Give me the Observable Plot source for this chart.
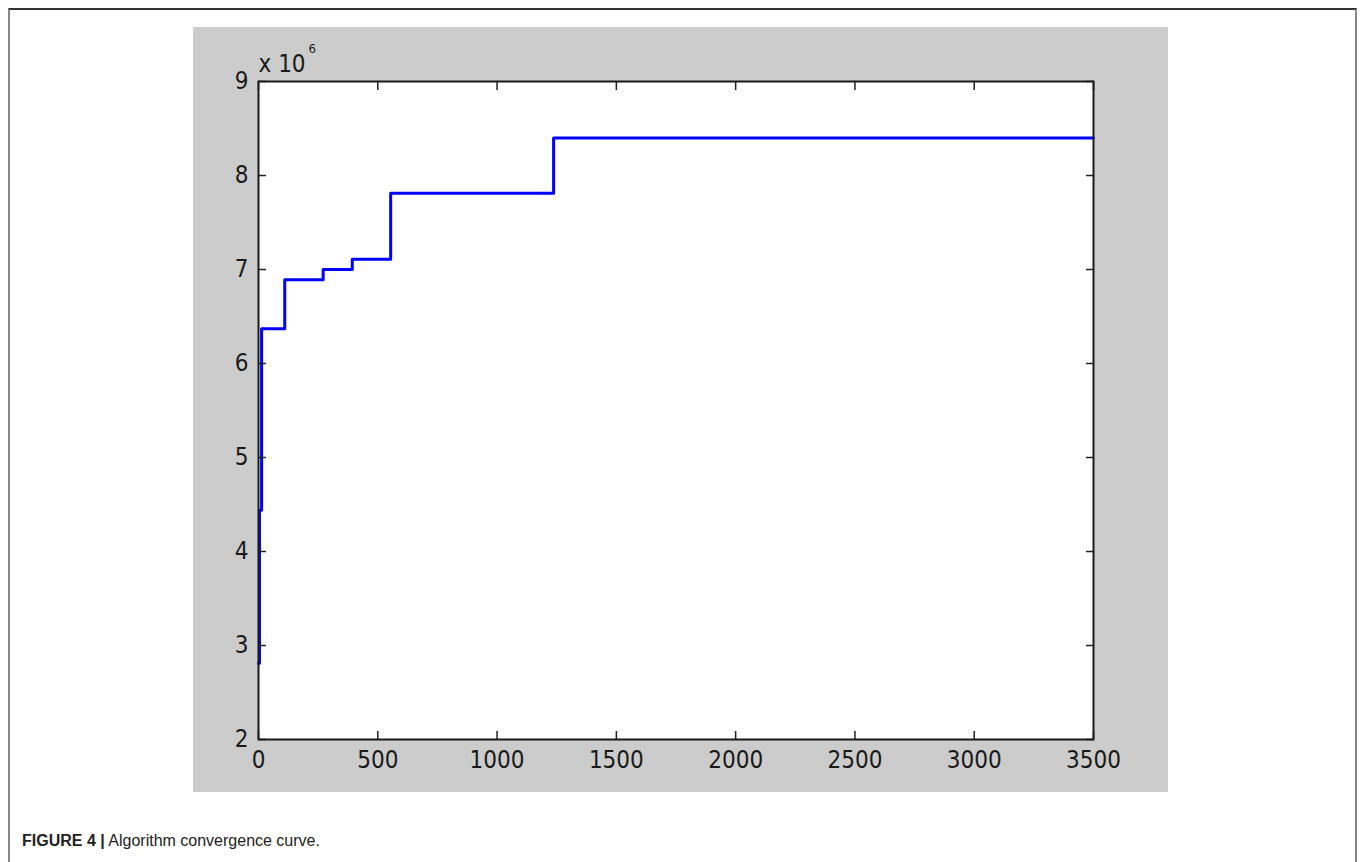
<!DOCTYPE html>
<html>
<head>
<meta charset="utf-8">
<script src="https://cdn.jsdelivr.net/npm/d3@7"></script>
<script src="https://cdn.jsdelivr.net/npm/@observablehq/plot@0.6"></script>
<style>
  html, body { margin: 0; padding: 0; background: #fff; overflow: hidden; width: 1360px; height: 862px; }
  #frame { position: absolute; left: 8px; top: 8px; width: 1345px; height: 900px;
           border-top: 2px solid #333; border-left: 2px solid #888; border-right: 2px solid #888; }
  #panel { position: absolute; left: 193px; top: 27px; width: 975px; height: 765px; background: #cccccc; }
  #chart { position: absolute; left: 193px; top: 27px; }
  #caption { position: absolute; left: 22px; top: 833px; font-family: "Liberation Sans", Arial, sans-serif;
             font-size: 16px; line-height: 16px; color: #222; white-space: nowrap; }
  #caption b { font-weight: bold; }
</style>
</head>
<body>
<div id="frame"></div>
<div id="panel"></div>
<div id="chart"></div>
<div id="caption"><b>FIGURE 4 |</b> Algorithm convergence curve.</div>
<script>
// iteration at which each new best value was found
const iterations = [0, 4, 13, 110, 271, 393, 554, 1237, 3500];
// best objective value (× 10^6)
const bestValues = [2.81, 4.44, 6.37, 6.89, 7.00, 7.11, 7.81, 8.40, 8.40];
const xTicks = [0, 500, 1000, 1500, 2000, 2500, 3000, 3500];
const yTicks = [2, 3, 4, 5, 6, 7, 8, 9];
const exponentLabel = "x 10";
const exponentPower = "6";

const data = iterations.map((it, i) => ({iteration: it, value: bestValues[i]}));

const tickFont = '"DejaVu Sans Condensed", "Liberation Sans Narrow", sans-serif';
const fmt = d => String(d);

const chart = Plot.plot({
  width: 975,
  height: 765,
  marginLeft: 65,
  marginRight: 75,
  marginTop: 54,
  marginBottom: 53,
  style: {background: "transparent", fontFamily: tickFont, fontSize: "24px", color: "#1a1a1a", overflow: "visible"},
  x: {domain: [0, 3500], ticks: xTicks, tickFormat: fmt, label: null},
  y: {domain: [2, 9], ticks: yTicks, tickFormat: fmt, label: null},
  marks: [
    Plot.frame({fill: "white"}),
    Plot.line(data, {x: "iteration", y: "value", curve: "step-after", stroke: "#0000ff", strokeWidth: 3}),
    Plot.axisX({anchor: "bottom", ticks: xTicks, tickFormat: fmt, tickSize: -8, tickPadding: 19, label: null, stroke: "#222", strokeWidth: 1.5}),
    Plot.axisX({anchor: "top", ticks: xTicks, tickSize: -8, tickFormat: () => "", label: null, stroke: "#222", strokeWidth: 1.5}),
    Plot.axisY({anchor: "left", ticks: yTicks, tickFormat: fmt, tickSize: -8, tickPadding: 18, label: null, stroke: "#222", strokeWidth: 1.5}),
    Plot.axisY({anchor: "right", ticks: yTicks, tickSize: -8, tickFormat: () => "", label: null, stroke: "#222", strokeWidth: 1.5}),
    Plot.frame({stroke: "#1a1a1a", strokeWidth: 2}),
    Plot.text([exponentLabel], {frameAnchor: "top-left", text: d => d, textAnchor: "start", lineAnchor: "bottom", dy: -10, fontSize: 24, fill: "#1a1a1a"}),
    Plot.text([exponentPower], {frameAnchor: "top-left", text: d => d, textAnchor: "start", lineAnchor: "bottom", dx: 50, dy: -29, fontSize: 13, fill: "#1a1a1a"})
  ]
});
document.getElementById("chart").appendChild(chart);
</script>
</body>
</html>
